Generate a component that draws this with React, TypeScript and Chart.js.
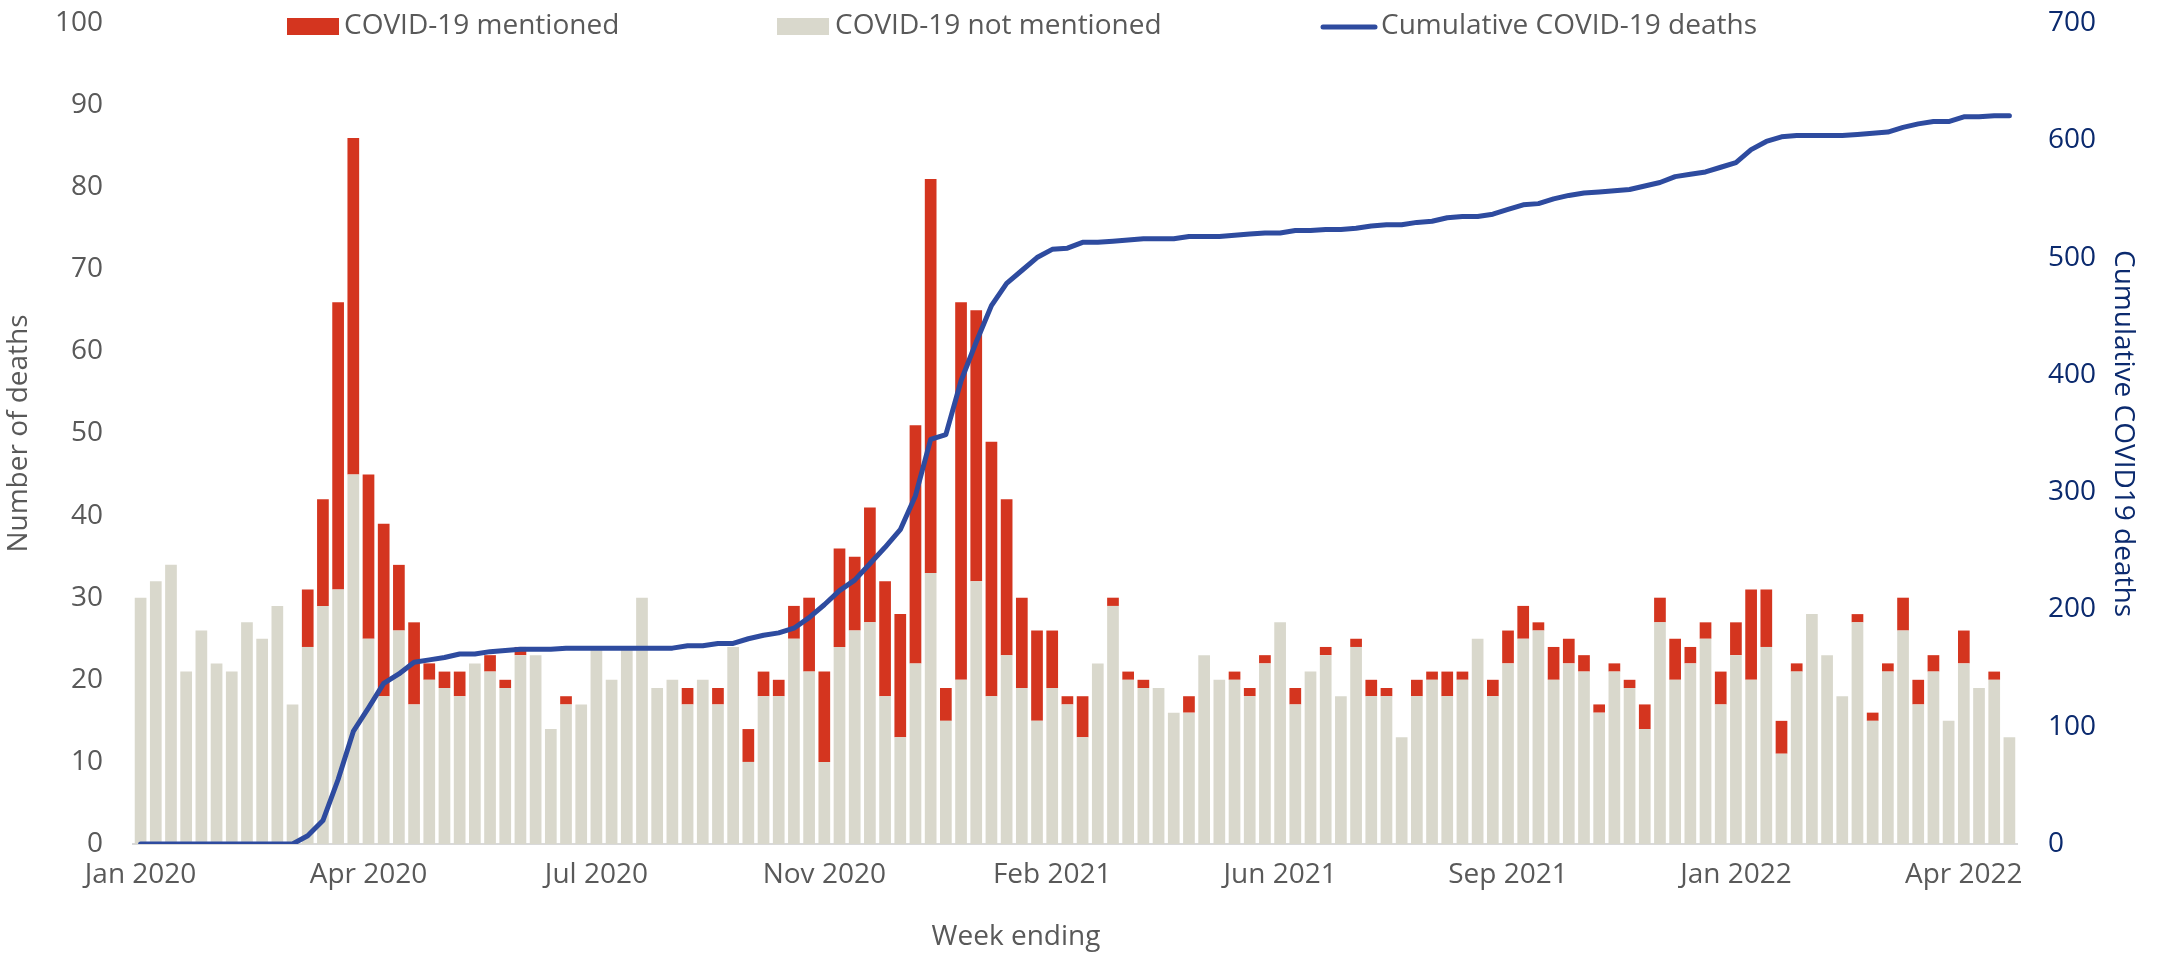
import React, { useEffect, useRef } from 'react';
import { Chart, registerables } from 'chart.js';

Chart.register(...registerables);

// ---- Data ----
const tickLabels = ['Jan 2020', 'Apr 2020', 'Jul 2020', 'Nov 2020', 'Feb 2021', 'Jun 2021', 'Sep 2021', 'Jan 2022', 'Apr 2022'];

const notMentioned = [
  30, 32, 34, 21, 26, 22, 21, 27, 25, 29,
  17, 24, 29, 31, 45, 25, 18, 26, 17, 20,
  19, 18, 22, 21, 19, 23, 23, 14, 17, 17,
  24, 20, 24, 30, 19, 20, 17, 20, 17, 24,
  10, 18, 18, 25, 21, 10, 24, 26, 27, 18,
  13, 22, 33, 15, 20, 32, 18, 23, 19, 15,
  19, 17, 13, 22, 29, 20, 19, 19, 16, 16,
  23, 20, 20, 18, 22, 27, 17, 21, 23, 18,
  24, 18, 18, 13, 18, 20, 18, 20, 25, 18,
  22, 25, 26, 20, 22, 21, 16, 21, 19, 14,
  27, 20, 22, 25, 17, 23, 20, 24, 11, 21,
  28, 23, 18, 27, 15, 21, 26, 17, 21, 15,
  22, 19, 20, 13,
];

const mentioned = [
  0, 0, 0, 0, 0, 0, 0, 0, 0, 0,
  0, 7, 13, 35, 41, 20, 21, 8, 10, 2,
  2, 3, 0, 2, 1, 1, 0, 0, 1, 0,
  0, 0, 0, 0, 0, 0, 2, 0, 2, 0,
  4, 3, 2, 4, 9, 11, 12, 9, 14, 14,
  15, 29, 48, 4, 46, 33, 31, 19, 11, 11,
  7, 1, 5, 0, 1, 1, 1, 0, 0, 2,
  0, 0, 1, 1, 1, 0, 2, 0, 1, 0,
  1, 2, 1, 0, 2, 1, 3, 1, 0, 2,
  4, 4, 1, 4, 3, 2, 1, 1, 1, 3,
  3, 5, 2, 2, 4, 4, 11, 7, 4, 1,
  0, 0, 0, 1, 1, 1, 4, 3, 2, 0,
  4, 0, 1, 0,
];

const cumulativeDeaths = [
  0, 0, 0, 0, 0, 0, 0, 0, 0, 0,
  0, 7, 20, 55, 96, 116, 137, 145, 155, 157,
  159, 162, 162, 164, 165, 166, 166, 166, 167, 167,
  167, 167, 167, 167, 167, 167, 169, 169, 171, 171,
  175, 178, 180, 184, 193, 204, 216, 225, 239, 253,
  268, 297, 345, 349, 395, 428, 459, 478, 489, 500,
  507, 508, 513, 513, 514, 515, 516, 516, 516, 518,
  518, 518, 519, 520, 521, 521, 523, 523, 524, 524,
  525, 527, 528, 528, 530, 531, 534, 535, 535, 537,
  541, 545, 546, 550, 553, 555, 556, 557, 558, 561,
  564, 569, 571, 573, 577, 581, 592, 599, 603, 604,
  604, 604, 604, 605, 606, 607, 611, 614, 616, 616,
  620, 620, 621, 621,
];

// week-ending categories (weekly from 3 Jan 2020)
const MONTHS = ['Jan', 'Feb', 'Mar', 'Apr', 'May', 'Jun', 'Jul', 'Aug', 'Sep', 'Oct', 'Nov', 'Dec'];
const weekEnding: string[] = notMentioned.map((_, i) => {
  const d = new Date(Date.UTC(2020, 0, 3 + 7 * i));
  return `${d.getUTCDate()} ${MONTHS[d.getUTCMonth()]} ${d.getUTCFullYear()}`;
});

// ---- Styles ----
const FONT = "'Open Sans', 'Noto Sans', sans-serif";
const FS = 28;
const RED = '#D4351F';
const GREY = '#D9D8CC';
const BLUE = '#2E4B9F';
const TEXT = '#595959';
const NAVY = '#0B2A6E';

const overlay = {
  id: 'overlay',
  afterDraw(chart: any) {
    const ctx = chart.ctx;
    ctx.save();
    ctx.font = `${FS}px ${FONT}`;
    ctx.textBaseline = 'middle';
    ctx.textAlign = 'left';
    const ly = 26;
    ctx.fillStyle = RED;
    ctx.fillRect(287, ly - 8, 52, 17);
    ctx.fillStyle = TEXT;
    ctx.fillText('COVID-19 mentioned', 344, ly);
    ctx.fillStyle = GREY;
    ctx.fillRect(777, ly - 8, 52, 17);
    ctx.fillStyle = TEXT;
    ctx.fillText('COVID-19 not mentioned', 835, ly);
    ctx.strokeStyle = BLUE;
    ctx.lineWidth = 5;
    ctx.lineCap = 'round';
    ctx.beginPath();
    ctx.moveTo(1323, ly + 1);
    ctx.lineTo(1375, ly + 1);
    ctx.stroke();
    ctx.fillStyle = TEXT;
    ctx.fillText('Cumulative COVID-19 deaths', 1381, ly);
    ctx.textAlign = 'center';
    ctx.fillText('Week ending', 1016, 937);
    ctx.restore();
  },
};

export default function App() {
  const ref = useRef<HTMLCanvasElement | null>(null);
  useEffect(() => {
    if (!ref.current) return;
    const chart = new Chart(ref.current, {
      type: 'bar',
      data: {
        labels: weekEnding,
        datasets: [
          {
            type: 'line',
            label: 'Cumulative COVID-19 deaths',
            data: cumulativeDeaths,
            yAxisID: 'y1',
            borderColor: BLUE,
            borderWidth: 5,
            pointRadius: 0,
            tension: 0,
            borderCapStyle: 'round',
            borderJoinStyle: 'round',
            order: 0,
          } as any,
          {
            label: 'COVID-19 not mentioned',
            data: notMentioned,
            backgroundColor: GREY,
            yAxisID: 'y',
            stack: 's',
            order: 1,
            barPercentage: 0.77,
            categoryPercentage: 1,
          },
          {
            label: 'COVID-19 mentioned',
            data: mentioned,
            backgroundColor: RED,
            yAxisID: 'y',
            stack: 's',
            order: 1,
            barPercentage: 0.77,
            categoryPercentage: 1,
          },
        ],
      },
      options: {
        animation: false,
        responsive: false,
        layout: { padding: { top: 23, left: 0, right: 0, bottom: 0 } },
        plugins: { legend: { display: false }, tooltip: { enabled: false } },
        scales: {
          x: {
            stacked: true,
            grid: { display: false, drawTicks: false },
            border: { display: true, color: '#D9D9D9', width: 2 },
            ticks: {
              autoSkip: false,
              maxRotation: 0,
              minRotation: 0,
              padding: 14,
              color: TEXT,
              font: { family: FONT, size: FS },
              callback: (_v: any, i: number) => (i % 15 === 0 ? tickLabels[i / 15] ?? '' : ''),
            },
            afterFit: (s: any) => { s.height = 109; s.paddingLeft = 0; s.paddingRight = 0; },
          },
          y: {
            stacked: true,
            position: 'left',
            min: 0,
            max: 100,
            grid: { display: false, drawTicks: false },
            border: { display: false },
            ticks: { stepSize: 10, padding: 30, color: TEXT, font: { family: FONT, size: FS } },
            title: { display: true, text: 'Number of deaths', color: TEXT, font: { family: FONT, size: FS }, padding: { top: 2, bottom: 0 } },
            afterFit: (s: any) => { s.width = 133; s.paddingTop = 0; s.paddingBottom = 0; },
          },
          y1: {
            position: 'right',
            min: 0,
            max: 700,
            grid: { display: false, drawTicks: false },
            border: { display: false },
            ticks: { stepSize: 100, padding: 31, color: NAVY, font: { family: FONT, size: FS } },
            title: { display: true, text: 'Cumulative COVID19 deaths', color: NAVY, font: { family: FONT, size: FS }, padding: { top: 17, bottom: 0 } },
            afterFit: (s: any) => { s.width = 140; s.paddingTop = 0; s.paddingBottom = 0; },
          },
        },
      } as any,
      plugins: [overlay],
    });
    return () => chart.destroy();
  }, []);
  return (
    <div style={{ position: 'fixed', left: 0, top: 0, width: 2157, height: 953, background: '#fff' }}>
      <canvas ref={ref} width={2157} height={953} style={{ display: 'block', width: 2157, height: 953 }} />
    </div>
  );
}
